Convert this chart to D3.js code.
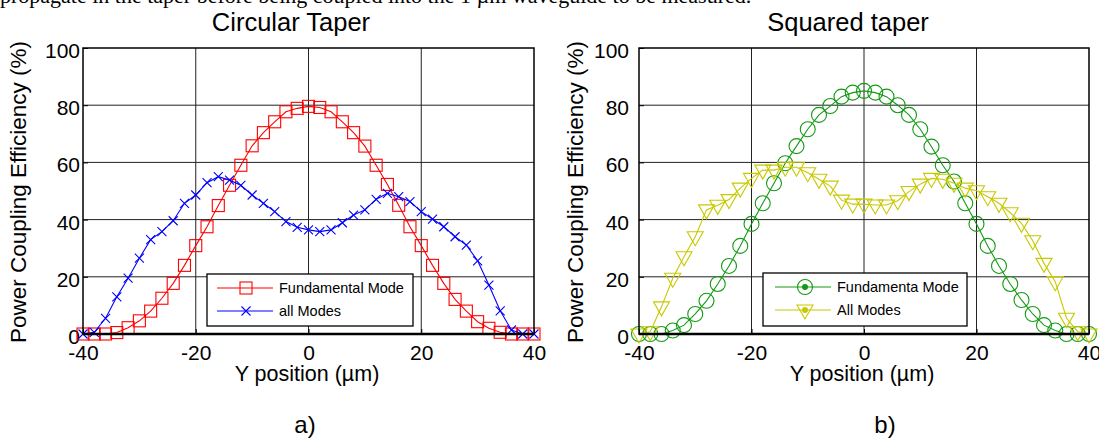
<!DOCTYPE html>
<html>
<head>
<meta charset="utf-8">
<script src="https://cdn.jsdelivr.net/npm/d3@7"></script>
<style>
  html, body { margin: 0; padding: 0; background: #fff; }
  svg { display: block; }
  text { font-family: "Liberation Sans", Arial, sans-serif; fill: #000; }
</style>
</head>
<body>
<svg id="chart" width="1099" height="441"></svg>
<script>
// ---------- data ----------
const yPositions = [-40,-38,-36,-34,-32,-30,-28,-26,-24,-22,-20,-18,-16,-14,-12,-10,-8,-6,-4,-2,0,
                    2,4,6,8,10,12,14,16,18,20,22,24,26,28,30,32,34,36,38,40];

const circularFundamental = [0,0,0,0.5,2.2,4.6,8,12.5,17.7,24,30.9,37.5,44.9,52,59,65.8,70.4,74.2,77.7,78.9,79.6,
                             79.2,77.7,74.2,70.4,65.7,59,52.3,45,37.5,30.9,24,17.7,12.1,8,4.3,2,0.6,0,0,0];
const circularAll = [0,0.6,5.5,13,19.5,26.5,33,35.8,39.6,45.7,48.6,52.9,55,53.8,52,48.6,45.7,42.8,39.3,37.3,36.4,
                     35.8,36.4,38.9,41.6,43.4,47.1,49.2,48,46.3,42.8,40.2,37.5,34,31.1,25.6,17.1,8.1,1.4,0,0];

const squaredFundamental = [0,0,0,1.2,3.1,7,11.6,17.5,23.8,30.8,38.5,45.7,52.7,59.7,65.7,71.6,76.6,79.7,83,84.4,85,
                            84.4,83,80,76.6,71.6,65.5,59,53.3,45.7,38.5,30.8,23.8,17.5,11.9,7,3.1,1.2,0,0,0];
const squaredAll = [0,0.8,9.5,19.5,27,34,43.4,45,47,51,54.4,57.3,57.3,58.3,58.3,56.4,54.1,51.7,46.8,45.4,45.4,
                    45.1,45.1,46.6,49.8,52.4,54.4,54.1,52.7,51,50.1,48,45.7,42.4,38.7,32.6,24.7,18.3,5.5,0.8,0];

const xTicks = [-40,-20,0,20,40];
const yTicks = [0,20,40,60,80,100];
const panelTitles = ["Circular Taper", "Squared taper"];
const panelLetters = ["a)", "b)"];
const xLabel = "Y position (\u00B5m)";
const yLabel = "Power Coupling Efficiency (%)";
const legendLabels = [["Fundamental Mode", "all Modes"], ["Fundamenta Mode", "All Modes"]];

// ---------- drawing ----------
const svg = d3.select("#chart");

// cropped document text above the figure
svg.append("text")
  .attr("x", 0).attr("y", 3)
  .style("font-family", "'Liberation Serif', 'Times New Roman', serif")
  .style("font-size", "22px")
  .text("propagate in the taper before being coupled into the 1 \u00B5m waveguide to be measured.");

const panels = [
  { x0: 83, x1: 534, tickEnd: 80, yLabelX: 26, titleX: 291, xLabelX: 307, letterX: 305,
    legend: { x: 207, y: 274, w: 206, h: 52, lineX0: 217, lineX1: 273, markX: 246, textX: 279 },
    series: [
      { values: circularFundamental, color: "#ff0000", marker: "square" },
      { values: circularAll, color: "#0000ff", marker: "cross" }
    ] },
  { x0: 639, x1: 1089, tickEnd: 629, yLabelX: 583, titleX: 848, xLabelX: 862, letterX: 885,
    legend: { x: 763, y: 273, w: 204, h: 53, lineX0: 775, lineX1: 831, markX: 805, textX: 837 },
    series: [
      { values: squaredFundamental, color: "#129a12", marker: "circle" },
      { values: squaredAll, color: "#c8c800", marker: "triangle" }
    ] }
];

const yTop = 48, yBottom = 334;

function drawMarker(g, type, color, cx, cy, withDot) {
  if (type === "square") {
    g.append("rect").attr("x", cx - 6).attr("y", cy - 6).attr("width", 12).attr("height", 12)
      .attr("fill", "none").attr("stroke", color).attr("stroke-width", 1.1);
  } else if (type === "cross") {
    g.append("path").attr("d", `M${cx-4.5},${cy-4.5}L${cx+4.5},${cy+4.5}M${cx-4.5},${cy+4.5}L${cx+4.5},${cy-4.5}`)
      .attr("fill", "none").attr("stroke", color).attr("stroke-width", 1.1);
  } else if (type === "circle") {
    g.append("circle").attr("cx", cx).attr("cy", cy).attr("r", 7.5)
      .attr("fill", "none").attr("stroke", color).attr("stroke-width", 1.1);
  } else if (type === "triangle") {
    g.append("path").attr("d", `M${cx-8},${cy-5}L${cx+8},${cy-5}L${cx},${cy+9}Z`)
      .attr("fill", "none").attr("stroke", color).attr("stroke-width", 1.1);
  }
  if (withDot) {
    g.append("circle").attr("cx", cx).attr("cy", cy).attr("r", 3).attr("fill", color);
  }
}

panels.forEach((p, pi) => {
  const x = d3.scaleLinear().domain([-40, 40]).range([p.x0, p.x1]);
  const y = d3.scaleLinear().domain([0, 100]).range([yBottom, yTop]);
  const g = svg.append("g");

  // grid
  g.append("g").selectAll("line").data(xTicks.slice(1, -1)).join("line")
    .attr("x1", d => x(d)).attr("x2", d => x(d)).attr("y1", yTop).attr("y2", yBottom)
    .attr("stroke", "#222").attr("stroke-width", 1);
  g.append("g").selectAll("line").data(yTicks.slice(1, -1)).join("line")
    .attr("x1", p.x0).attr("x2", p.x1).attr("y1", d => y(d)).attr("y2", d => y(d))
    .attr("stroke", "#222").attr("stroke-width", 1);

  // axes
  const xAxis = g.append("g").attr("transform", `translate(0,${yBottom})`)
    .call(d3.axisBottom(x).tickValues(xTicks).tickSize(-5).tickPadding(15).tickFormat(d3.format("d")));
  xAxis.select(".domain").remove();
  xAxis.selectAll("line").attr("stroke", "#000");
  xAxis.selectAll("text").style("font-size", "21px").style("font-family", "'Liberation Sans', Arial, sans-serif")
    .attr("y", 26).attr("dy", 0).text(d => d3.format("d")(d).replace("\u2212", "-"));

  const yAxis = g.append("g").attr("transform", `translate(${p.x0},0)`)
    .call(d3.axisLeft(y).tickValues(yTicks).tickSize(-5).tickPadding(0));
  yAxis.select(".domain").remove();
  yAxis.selectAll("line").attr("stroke", "#000");
  yAxis.selectAll("text").style("font-size", "21px").style("font-family", "'Liberation Sans', Arial, sans-serif")
    .attr("x", p.tickEnd - p.x0).attr("dy", "0.45em");

  // series
  const line = d3.line().x((d, i) => x(yPositions[i])).y(d => y(d));
  p.series.forEach(s => {
    g.append("path").datum(s.values).attr("d", line)
      .attr("fill", "none").attr("stroke", s.color).attr("stroke-width", 1.1);
    const mg = g.append("g");
    s.values.forEach((v, i) => drawMarker(mg, s.marker, s.color, x(yPositions[i]), y(v), false));
  });

  // box
  g.append("rect").attr("x", p.x0).attr("y", yTop).attr("width", p.x1 - p.x0).attr("height", yBottom - yTop)
    .attr("fill", "none").attr("stroke", "#000").attr("stroke-width", 1.5);
  g.append("line").attr("x1", p.x0).attr("x2", p.x1).attr("y1", yBottom).attr("y2", yBottom)
    .attr("stroke", "#000").attr("stroke-width", 2.5);

  // legend
  const L = p.legend;
  const lg = g.append("g");
  lg.append("rect").attr("x", L.x).attr("y", L.y).attr("width", L.w).attr("height", L.h)
    .attr("fill", "#fff").attr("stroke", "#000").attr("stroke-width", 1.3);
  const rowsY = [L.y + 14, L.y + 37];
  p.series.forEach((s, si) => {
    lg.append("line").attr("x1", L.lineX0).attr("x2", L.lineX1).attr("y1", rowsY[si]).attr("y2", rowsY[si])
      .attr("stroke", s.color).attr("stroke-width", 1.1);
    drawMarker(lg, s.marker, s.color, L.markX, rowsY[si], pi === 1);
    lg.append("text").attr("x", L.textX).attr("y", rowsY[si]).attr("dy", "0.36em")
      .style("font-size", "14.5px").text(legendLabels[pi][si]);
  });

  // titles and labels
  g.append("text").attr("x", p.titleX).attr("y", 31).attr("text-anchor", "middle")
    .style("font-size", "25.5px").text(panelTitles[pi]);
  g.append("text").attr("x", p.xLabelX).attr("y", 381).attr("text-anchor", "middle")
    .style("font-size", "21.5px").text(xLabel);
  g.append("text").attr("transform", `translate(${p.yLabelX},192) rotate(-90)`).attr("text-anchor", "middle")
    .style("font-size", "22.5px").text(yLabel);
  g.append("text").attr("x", p.letterX).attr("y", 433).attr("text-anchor", "middle")
    .style("font-size", "24px").text(panelLetters[pi]);
});
</script>
</body>
</html>
